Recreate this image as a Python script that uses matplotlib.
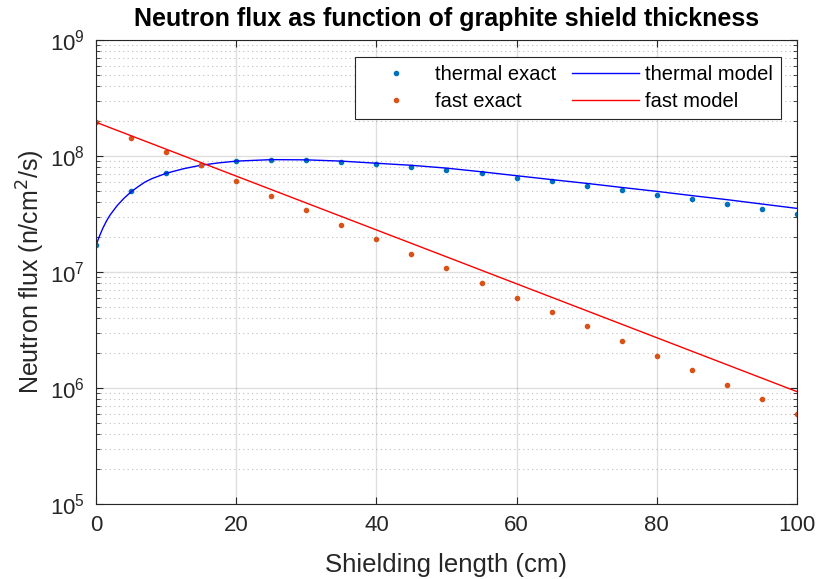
import matplotlib
matplotlib.use('Agg')
from matplotlib import pyplot as plt
from matplotlib.ticker import LogLocator, NullFormatter

plt.rcParams['font.family'] = ['Liberation Sans', 'DejaVu Sans']

# Exact values
x_exact = [0, 5, 10, 15, 20, 25, 30, 35, 40, 45, 50,
           55, 60, 65, 70, 75, 80, 85, 90, 95, 100]
thermal_exact = [1.7e7, 5.0e7, 7.1e7, 8.3e7, 9.05e7, 9.3e7, 9.25e7, 8.95e7, 8.6e7, 8.1e7, 7.6e7,
                 7.07e7, 6.5e7, 6.03e7, 5.52e7, 5.05e7, 4.62e7, 4.22e7, 3.85e7, 3.51e7, 3.18e7]
fast_exact = [1.95e8, 1.44e8, 1.08e8, 8.3e7, 6.07e7, 4.54e7, 3.39e7, 2.55e7, 1.91e7, 1.43e7, 1.08e7,
              8.04e6, 6.0e6, 4.5e6, 3.39e6, 2.54e6, 1.89e6, 1.43e6, 1.07e6, 7.97e5, 5.97e5]

# Model curves
x_thermal_model = [0, 0.5, 1, 1.5, 2, 3, 4, 5, 6, 7, 8, 10, 12.5, 15, 17.5, 20, 25, 30, 35, 40,
                   45, 50, 55, 60, 65, 70, 75, 80, 85, 90, 95, 100]
thermal_model = [1.7e7, 2.04e7, 2.4e7, 2.75e7, 3.09e7, 3.72e7, 4.32e7, 4.9e7, 5.43e7, 5.96e7, 6.38e7,
                 7.08e7, 7.76e7, 8.32e7, 8.71e7, 9.02e7, 9.29e7, 9.25e7, 9.02e7, 8.65e7,
                 8.3e7, 7.85e7, 7.3e7, 6.75e7, 6.25e7, 5.8e7, 5.35e7, 4.95e7, 4.55e7, 4.2e7,
                 3.85e7, 3.53e7]
x_fast_model = [0, 50, 100]
fast_model = [1.95e8, 1.35e7, 9.3e5]

fig = plt.figure(dpi=100, figsize=(8.17, 5.79))
ax = fig.add_axes([0.1175, 0.1295, 0.858, 0.8016])

h1, = ax.plot(x_exact, thermal_exact, '.', color='#0072BD', markersize=6, label='thermal exact')
h3, = ax.plot(x_thermal_model, thermal_model, '-', color='blue', linewidth=1, label='thermal model')
h2, = ax.plot(x_exact, fast_exact, '.', color='#D95319', markersize=6, label='fast exact')
h4, = ax.plot(x_fast_model, fast_model, '-', color='red', linewidth=1, label='fast model')

ax.set_yscale('log')
ax.set_xlim(0, 100)
ax.set_ylim(1e5, 1e9)
ax.set_xticks([0, 20, 40, 60, 80, 100])
ax.yaxis.set_major_locator(LogLocator(base=10, numticks=10))
ax.yaxis.set_minor_locator(LogLocator(base=10, subs=range(2, 10), numticks=20))
ax.yaxis.set_minor_formatter(NullFormatter())

ax.grid(True, which='major', color='#262626', alpha=0.15, linewidth=1, linestyle='-')
ax.grid(True, which='minor', axis='y', color='#262626', alpha=0.3, linewidth=0.8, linestyle=(0, (1, 3)))
ax.set_axisbelow(True)

ax.tick_params(axis='both', which='major', direction='in', length=5, labelsize=16,
               colors='#262626', top=True, right=True, pad=8)
ax.tick_params(axis='y', which='minor', direction='in', length=3, right=True, colors='#262626')
for s in ax.spines.values():
    s.set_color('#262626')

ax.set_title('Neutron flux as function of graphite shield thickness', fontsize=18,
             fontweight='bold', pad=10)
ax.set_xlabel('Shielding length (cm)', fontsize=18.5, color='#262626', labelpad=12)
ax.set_ylabel('Neutron flux (n/cm$^2$/s)', fontsize=18, color='#262626', labelpad=2)

leg = ax.legend([h1, h2, h3, h4], ['thermal exact', 'fast exact', 'thermal model', 'fast model'],
                ncol=2, loc='upper right', bbox_to_anchor=(0.977, 0.963), borderaxespad=0,
                fontsize=14.5, frameon=True, fancybox=False, edgecolor='#262626', framealpha=1,
                handlelength=3.3, handletextpad=0.3, columnspacing=0.8,
                borderpad=0.4, labelspacing=0.4)
leg.get_frame().set_linewidth(0.8)

fig.savefig('out.png', dpi=100)
